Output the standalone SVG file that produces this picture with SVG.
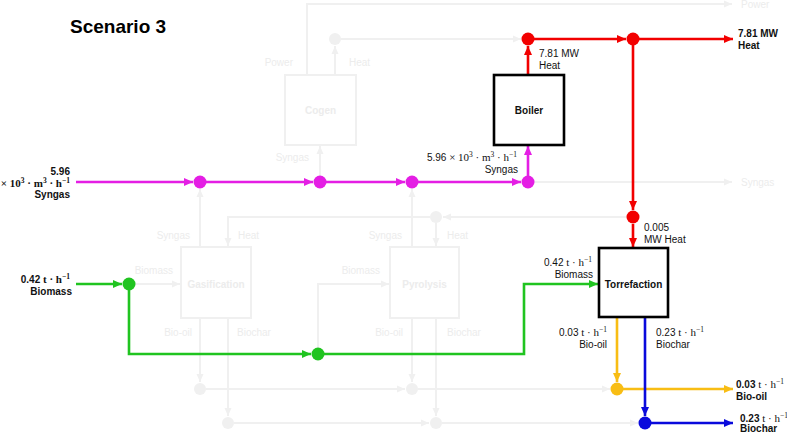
<svg xmlns="http://www.w3.org/2000/svg" width="787" height="433" viewBox="0 0 787 433">
<style>
  text { font-family: "Liberation Sans", Arial, sans-serif; font-size: 10px; fill: #111; }
  .m { font-family: "Liberation Serif", "Times New Roman", serif; font-size: 11px; }
  .sup { font-size: 7.5px; }
  .b { font-weight: bold; }
  .title { font-size: 19px; font-weight: bold; fill: #000; }
  .fl { fill: #ececec; }
  .fb { fill: #ececec; font-weight: bold; }
  .box { fill: #fff; stroke: #000; stroke-width: 2.6; }
  .fbox { fill: none; stroke: #f0f0f0; stroke-width: 2; }
  .fc { fill: none; stroke: #f0f0f0; stroke-width: 2; }
  .mag { fill: none; stroke: #e41ee4; stroke-width: 2.6; }
  .red { fill: none; stroke: #f20000; stroke-width: 2.6; }
  .grn { fill: none; stroke: #20c420; stroke-width: 2.6; }
  .org { fill: none; stroke: #f8bd14; stroke-width: 2.6; }
  .blu { fill: none; stroke: #0a0adc; stroke-width: 2.6; }
</style>
<defs>
  <marker id="af" markerWidth="9" markerHeight="8" refX="8" refY="4" orient="auto" markerUnits="userSpaceOnUse"><path d="M0,0.5 L8,4 L0,7.5 Z" fill="#f0f0f0"/></marker>
  <marker id="am" markerWidth="10" markerHeight="9" refX="9" refY="4.5" orient="auto" markerUnits="userSpaceOnUse"><path d="M0,0.5 L9,4.5 L0,8.5 Z" fill="#e41ee4"/></marker>
  <marker id="ar" markerWidth="10" markerHeight="9" refX="9" refY="4.5" orient="auto" markerUnits="userSpaceOnUse"><path d="M0,0.5 L9,4.5 L0,8.5 Z" fill="#f20000"/></marker>
  <marker id="ag" markerWidth="10" markerHeight="9" refX="9" refY="4.5" orient="auto" markerUnits="userSpaceOnUse"><path d="M0,0.5 L9,4.5 L0,8.5 Z" fill="#20c420"/></marker>
  <marker id="ao" markerWidth="10" markerHeight="9" refX="9" refY="4.5" orient="auto" markerUnits="userSpaceOnUse"><path d="M0,0.5 L9,4.5 L0,8.5 Z" fill="#f8bd14"/></marker>
  <marker id="ab" markerWidth="10" markerHeight="9" refX="9" refY="4.5" orient="auto" markerUnits="userSpaceOnUse"><path d="M0,0.5 L9,4.5 L0,8.5 Z" fill="#0a0adc"/></marker>
</defs>

<text id="title" class="title" x="70" y="33">Scenario 3</text>

<g id="connectors">
  <!-- faint (inactive) connectors -->
  <path class="fc" d="M307,75 V4 H732" marker-end="url(#af)"/>
  <path class="fc" d="M335,75 V46" marker-end="url(#af)"/>
  <path class="fc" d="M341,39 H521" marker-end="url(#af)"/>
  <path class="fc" d="M320,176 V146" marker-end="url(#af)"/>
  <path class="fc" d="M534,182 H732" marker-end="url(#af)"/>
  <path class="fc" d="M627,217 H443" marker-end="url(#af)"/>
  <path class="fc" d="M430,217 H228 V246" marker-end="url(#af)"/>
  <path class="fc" d="M436,223 V246" marker-end="url(#af)"/>
  <path class="fc" d="M200,247 V189" marker-end="url(#af)"/>
  <path class="fc" d="M412,247 V189" marker-end="url(#af)"/>
  <path class="fc" d="M135,284 H180" marker-end="url(#af)"/>
  <path class="fc" d="M318,348 V284 H389" marker-end="url(#af)"/>
  <path class="fc" d="M200,318 V382" marker-end="url(#af)"/>
  <path class="fc" d="M228,318 V416" marker-end="url(#af)"/>
  <path class="fc" d="M412,318 V382" marker-end="url(#af)"/>
  <path class="fc" d="M436,318 V416" marker-end="url(#af)"/>
  <path class="fc" d="M206,389 H405" marker-end="url(#af)"/>
  <path class="fc" d="M418,389 H610" marker-end="url(#af)"/>
  <path class="fc" d="M234,423 H429" marker-end="url(#af)"/>
  <path class="fc" d="M442,423 H638" marker-end="url(#af)"/>

  <!-- syngas (magenta) -->
  <path class="mag" d="M76,182 H193" marker-end="url(#am)"/>
  <path class="mag" d="M206,182 H313" marker-end="url(#am)"/>
  <path class="mag" d="M326,182 H405" marker-end="url(#am)"/>
  <path class="mag" d="M418,182 H521" marker-end="url(#am)"/>
  <path class="mag" d="M528,176 V146" marker-end="url(#am)"/>

  <!-- heat (red) -->
  <path class="red" d="M528,75 V46" marker-end="url(#ar)"/>
  <path class="red" d="M534,39 H626" marker-end="url(#ar)"/>
  <path class="red" d="M639,39 H733" marker-end="url(#ar)"/>
  <path class="red" d="M633,45 V210" marker-end="url(#ar)"/>
  <path class="red" d="M633,224 V247" marker-end="url(#ar)"/>

  <!-- biomass (green) -->
  <path class="grn" d="M76,284 H122" marker-end="url(#ag)"/>
  <path class="grn" d="M129,290 V354 H311" marker-end="url(#ag)"/>
  <path class="grn" d="M324,354 H524 V284 H598" marker-end="url(#ag)"/>

  <!-- bio-oil (orange) -->
  <path class="org" d="M617,318 V382" marker-end="url(#ao)"/>
  <path class="org" d="M623,389 H733" marker-end="url(#ao)"/>

  <!-- biochar (blue) -->
  <path class="blu" d="M645,318 V416" marker-end="url(#ab)"/>
  <path class="blu" d="M651,423 H733" marker-end="url(#ab)"/>
</g>

<!-- faint process units -->
<g id="cogen">
  <rect class="fbox" x="285" y="75" width="71" height="70"/>
  <text class="fb" x="320.5" y="114" text-anchor="middle">Cogen</text>
  <text class="fl" x="293" y="66" text-anchor="end">Power</text>
  <text class="fl" x="349" y="66">Heat</text>
  <text class="fl" x="309" y="161" text-anchor="end">Syngas</text>
</g>
<g id="gasification">
  <rect class="fbox" x="181" y="247" width="70" height="71"/>
  <text class="fb" x="216" y="288" text-anchor="middle">Gasification</text>
  <text class="fl" x="190" y="239" text-anchor="end">Syngas</text>
  <text class="fl" x="238" y="239">Heat</text>
  <text class="fl" x="173" y="274" text-anchor="end">Biomass</text>
  <text class="fl" x="192" y="336" text-anchor="end">Bio-oil</text>
  <text class="fl" x="237" y="336">Biochar</text>
</g>
<g id="pyrolysis">
  <rect class="fbox" x="390" y="247" width="69" height="71"/>
  <text class="fb" x="424.5" y="288" text-anchor="middle">Pyrolysis</text>
  <text class="fl" x="402" y="239" text-anchor="end">Syngas</text>
  <text class="fl" x="447" y="239">Heat</text>
  <text class="fl" x="380" y="274" text-anchor="end">Biomass</text>
  <text class="fl" x="403" y="336" text-anchor="end">Bio-oil</text>
  <text class="fl" x="447" y="336">Biochar</text>
</g>
<g id="faint-outputs">
  <text class="fl" x="741" y="8">Power</text>
  <text class="fl" x="741" y="186">Syngas</text>
</g>
<g id="faint-junctions" fill="#f0f0f0">
  <circle cx="335" cy="39" r="6"/>
  <circle cx="436" cy="217" r="6"/>
  <circle cx="200" cy="389" r="6"/>
  <circle cx="412" cy="389" r="6"/>
  <circle cx="228" cy="423" r="6"/>
  <circle cx="436" cy="423" r="6"/>
</g>

<!-- active units -->
<g id="boiler">
  <rect class="box" x="494" y="75" width="70" height="70"/>
  <text class="b" x="529" y="114" text-anchor="middle" font-size="9.5">Boiler</text>
  <text x="539" y="57">7.81 MW</text>
  <text x="539" y="69">Heat</text>
  <text x="517" y="161" text-anchor="end">5.96 <tspan class="m">× 10<tspan class="sup" dy="-4">3</tspan><tspan dy="4"> · m</tspan><tspan class="sup" dy="-4">3</tspan><tspan dy="4"> · h</tspan><tspan class="sup" dy="-4">−1</tspan></tspan></text>
  <text x="518" y="173" text-anchor="end">Syngas</text>
</g>
<g id="torrefaction">
  <rect class="box" x="599" y="248" width="69" height="69"/>
  <text class="b" x="633.5" y="288" text-anchor="middle" font-size="9.5">Torrefaction</text>
  <text x="644" y="231">0.005</text>
  <text x="644" y="243">MW Heat</text>
  <text x="592" y="266" text-anchor="end">0.42 <tspan class="m">t · h<tspan class="sup" dy="-4">−1</tspan></tspan></text>
  <text x="593" y="278" text-anchor="end">Biomass</text>
  <text x="607" y="336" text-anchor="end">0.03 <tspan class="m">t · h<tspan class="sup" dy="-4">−1</tspan></tspan></text>
  <text x="607" y="348" text-anchor="end">Bio-oil</text>
  <text x="656" y="336">0.23 <tspan class="m">t · h<tspan class="sup" dy="-4">−1</tspan></tspan></text>
  <text x="656" y="348">Biochar</text>
</g>

<g id="junctions">
  <circle cx="200" cy="182" r="6.5" fill="#e41ee4"/>
  <circle cx="320" cy="182" r="6.5" fill="#e41ee4"/>
  <circle cx="412" cy="182" r="6.5" fill="#e41ee4"/>
  <circle cx="528" cy="182" r="6.5" fill="#e41ee4"/>
  <circle cx="528" cy="39" r="6.5" fill="#f20000"/>
  <circle cx="633" cy="39" r="6.5" fill="#f20000"/>
  <circle cx="633" cy="217" r="6.5" fill="#f20000"/>
  <circle cx="129" cy="284" r="6.5" fill="#20c420"/>
  <circle cx="318" cy="354" r="6.5" fill="#20c420"/>
  <circle cx="617" cy="389" r="6.5" fill="#f8bd14"/>
  <circle cx="645" cy="423" r="6.5" fill="#0a0adc"/>
</g>

<g id="input-syngas">
  <text class="b" x="70" y="175" text-anchor="end">5.96</text>
  <text class="b m" x="70" y="187" text-anchor="end">× 10<tspan class="sup" dy="-4">3</tspan><tspan dy="4"> · m</tspan><tspan class="sup" dy="-4">3</tspan><tspan dy="4"> · h</tspan><tspan class="sup" dy="-4">−1</tspan></text>
  <text class="b" x="70" y="198" text-anchor="end">Syngas</text>
</g>
<g id="input-biomass">
  <text class="b" x="70" y="283" text-anchor="end">0.42 <tspan class="m">t · h<tspan class="sup" dy="-4">−1</tspan></tspan></text>
  <text class="b" x="72" y="295" text-anchor="end">Biomass</text>
</g>
<g id="output-heat">
  <text class="b" x="738" y="37">7.81 MW</text>
  <text class="b" x="738" y="49">Heat</text>
</g>
<g id="output-biooil">
  <text x="736" y="388"><tspan class="b">0.03 </tspan><tspan class="m">t · h<tspan class="sup" dy="-4">−1</tspan></tspan></text>
  <text class="b" x="736" y="400">Bio-oil</text>
</g>
<g id="output-biochar">
  <text x="740" y="422"><tspan class="b">0.23 </tspan><tspan class="m">t · h<tspan class="sup" dy="-4">−1</tspan></tspan></text>
  <text class="b" x="740" y="432">Biochar</text>
</g>
</svg>
